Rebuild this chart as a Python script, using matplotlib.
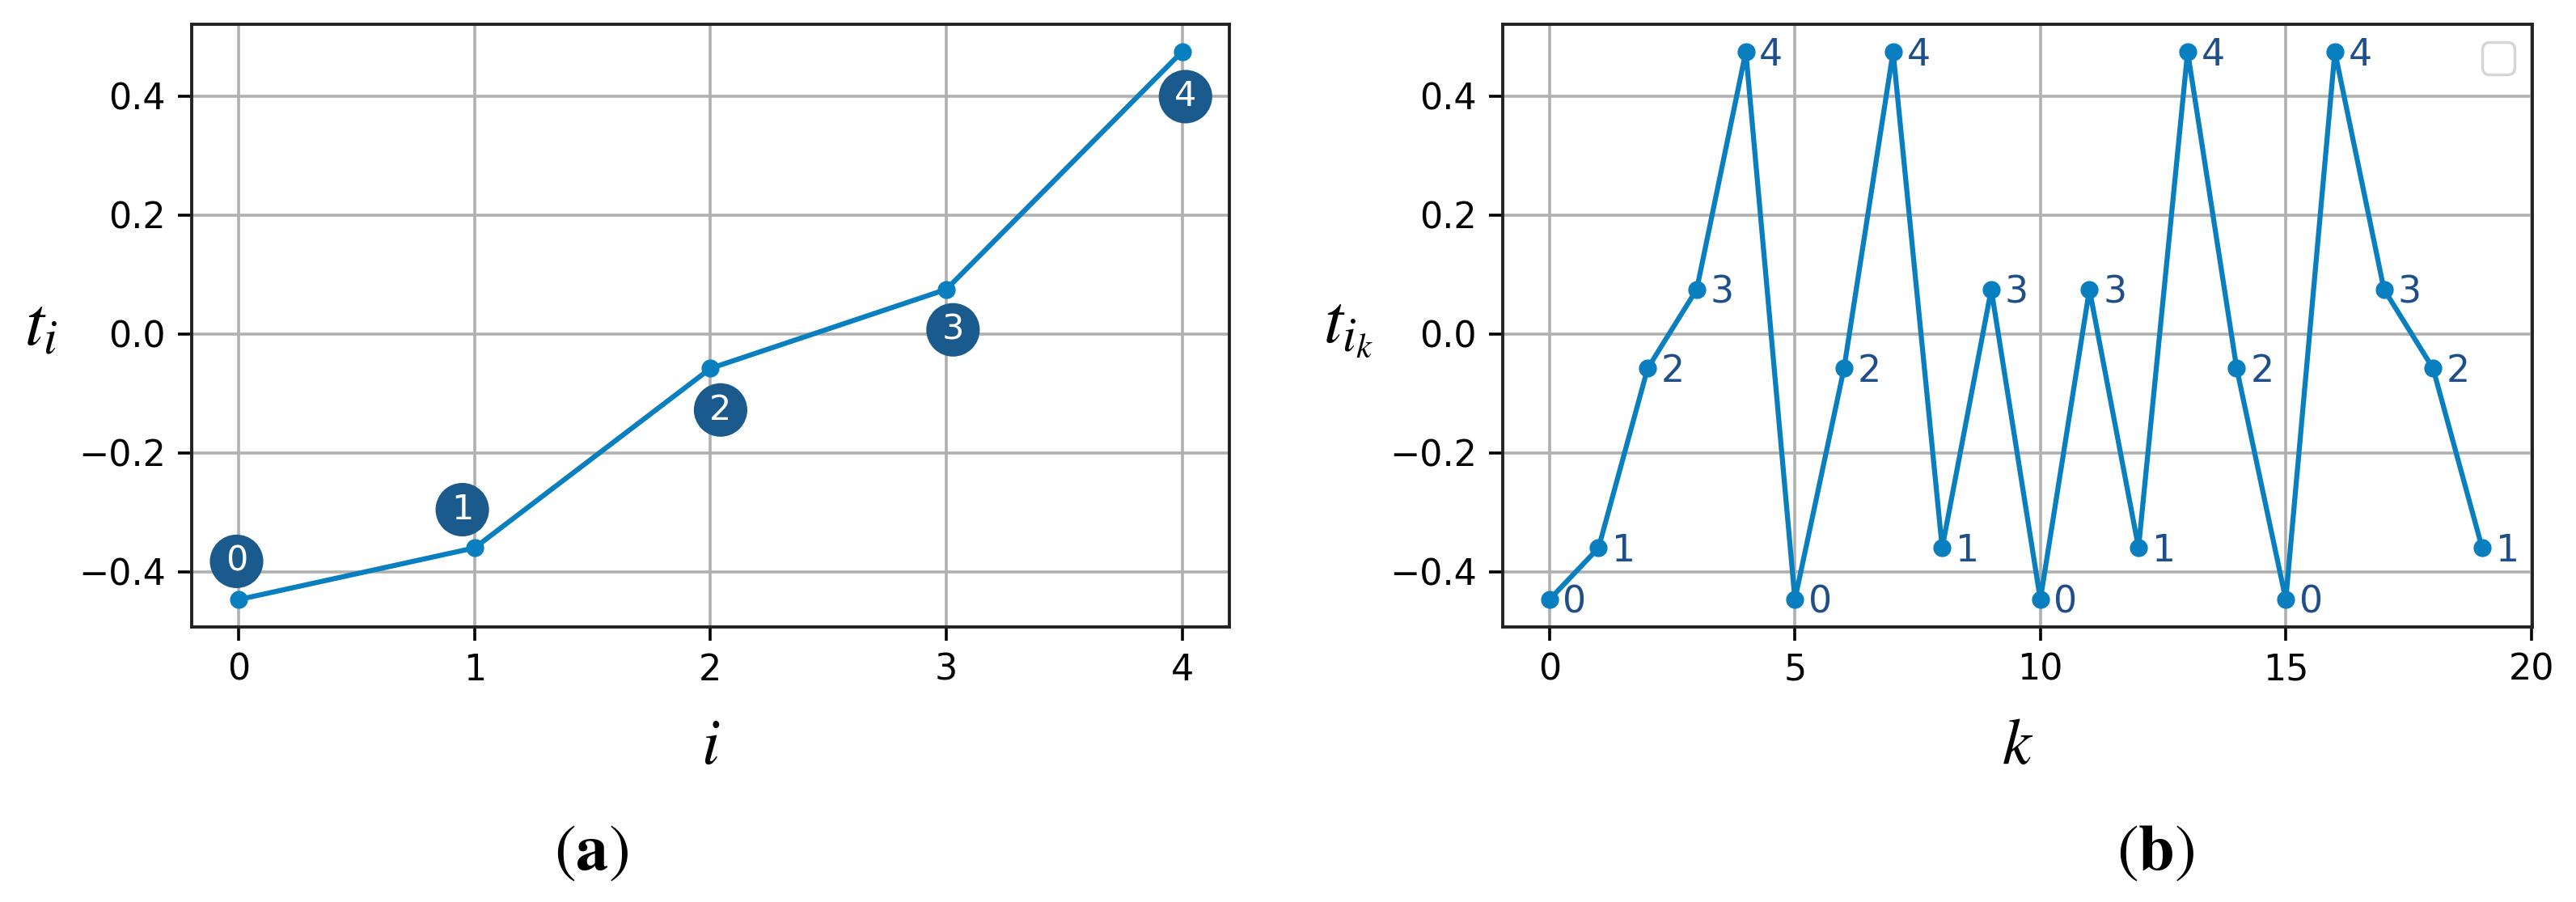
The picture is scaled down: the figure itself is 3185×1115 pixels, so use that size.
import matplotlib.pyplot as plt
import numpy as np

# node values t_i
i_vals = [0, 1, 2, 3, 4]
t_vals = [-0.447, -0.360, -0.058, 0.075, 0.475]

# index sequence i_k used in panel (b)
k_vals = list(range(20))
i_k = [0, 1, 2, 3, 4, 0, 2, 4, 1, 3, 0, 3, 1, 4, 2, 0, 4, 3, 2, 1]

line_col = "#0a7fc0"
badge_col = "#1b5a8c"
lab_col = "#1f4f8a"

plt.rcParams["mathtext.fontset"] = "stix"
plt.rcParams["font.size"] = 32

fig = plt.figure(figsize=(31.85, 11.15), dpi=100)
ax1 = fig.add_axes([0.0744, 0.305, 0.4028, 0.668])
ax2 = fig.add_axes([0.5834, 0.305, 0.3996, 0.668])

# badge offsets in points (placement of the round labels around each node)
badge_off = [(-2, 34), (-11, 34), (9, -37), (6, -36), (3, -40)]

ax1.plot(i_vals, t_vals, "-o", color=line_col, lw=4.5, ms=15)
for i, t, off in zip(i_vals, t_vals, badge_off):
    ax1.annotate(str(i), (i, t), xytext=off, textcoords="offset points",
                 ha="center", va="center", color="white", fontsize=31,
                 bbox=dict(boxstyle="circle,pad=0.28", fc=badge_col, ec="none"))
ax1.set_xlim(-0.2, 4.2)
ax1.set_xticks([0, 1, 2, 3, 4])

tk = [t_vals[j] for j in i_k]
ax2.plot(k_vals, tk, "-o", color=line_col, lw=4.5, ms=15)
for k, j in zip(k_vals, i_k):
    ax2.annotate(str(j), (k, t_vals[j]), xytext=(12, -3), textcoords="offset points",
                 ha="left", va="center", color=lab_col, fontsize=33)
ax2.set_xlim(-0.95, 20.02)
ax2.set_xticks([0, 5, 10, 15, 20])
leg = ax2.legend(handles=[], loc="upper right", borderpad=0.45, borderaxespad=0.5)
leg.get_frame().set_linewidth(2.5)

for ax in (ax1, ax2):
    ax.set_ylim(-0.493, 0.521)
    ax.set_yticks([-0.4, -0.2, 0.0, 0.2, 0.4])
    ax.grid(True, color="#b0b0b0", lw=2.6)
    ax.set_axisbelow(True)
    for s in ax.spines.values():
        s.set_linewidth(2.8)
        s.set_color("#222222")
    ax.tick_params(width=2.6, length=12, labelsize=32, pad=11)

ax1.set_xlabel(r"$i$", fontsize=58, labelpad=24)
ax1.set_ylabel(r"$t_i$", fontsize=62, rotation=0, va="center")
ax2.set_xlabel(r"$k$", fontsize=58, labelpad=24)
ax2.set_ylabel(r"$t_{i_k}$", fontsize=62, rotation=0, va="center")
ax1.yaxis.set_label_coords(-0.145, 0.5)
ax2.yaxis.set_label_coords(-0.15, 0.5)

fig.text(0.2296, 0.056, r"$(\mathbf{a})$", fontsize=58, ha="center", va="center")
fig.text(0.8368, 0.056, r"$(\mathbf{b})$", fontsize=58, ha="center", va="center")

fig.savefig("out.png", dpi=100)
